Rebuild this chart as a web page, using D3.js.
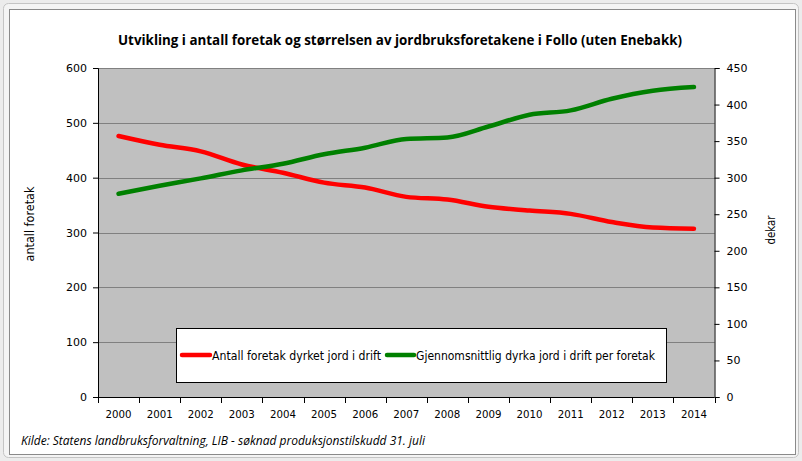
<!DOCTYPE html>
<html><head><meta charset="utf-8">
<script src="https://cdn.jsdelivr.net/npm/d3@7"></script>
<style>body{margin:0;background:#fff}svg{display:block}</style>
</head><body>
<svg id="c" width="802" height="461"></svg>
<script>
const years = ["2000","2001","2002","2003","2004","2005","2006","2007","2008","2009","2010","2011","2012","2013","2014"];
const antallForetak = [476,460,448,424,409,391,382,365,360,347,340,334,319,309,307];
const dekarPerForetak = [278,289,299,310,319,332,341,353,355,370,386,392,408,419,424];
const leftTicks = [0,100,200,300,400,500,600];
const rightTicks = [0,50,100,150,200,250,300,350,400,450];
const titleText = "Utvikling i antall foretak og størrelsen av jordbruksforetakene i Follo (uten Enebakk)";
const sourceText = "Kilde: Statens landbruksforvaltning, LIB - søknad produksjonstilskudd 31. juli";
const seriesNames = ["Antall foretak dyrket jord i drift","Gjennomsnittlig dyrka jord i drift per foretak"];

const svg = d3.select("#c");
const font = "'DejaVu Sans', Verdana, sans-serif";

// frame
svg.append("rect").attr("x",0).attr("y",0).attr("width",802).attr("height",461).attr("fill","#ececec");
svg.append("rect").attr("x",3.5).attr("y",3.5).attr("width",795).attr("height",454).attr("rx",5)
  .attr("fill","#f4f4f4").attr("stroke","#c4c4c4");
svg.append("rect").attr("x",9.5).attr("y",9.5).attr("width",786).attr("height",445)
  .attr("fill","#fff").attr("stroke","#8a8a8a");

const L=98, R=714.5, T=68, B=397;
const x = d3.scaleBand().domain(years).range([L,R]);
const yL = d3.scaleLinear().domain([0,600]).range([B,T]);
const yR = d3.scaleLinear().domain([0,450]).range([B,T]);

svg.append("rect").attr("x",L).attr("y",T).attr("width",R-L).attr("height",B-T).attr("fill","#c0c0c0");

// gridlines
svg.append("g").selectAll("line").data(leftTicks.filter(d=>d>0)).join("line")
  .attr("x1",L).attr("x2",R).attr("y1",d=>Math.round(yL(d))+0.5).attr("y2",d=>Math.round(yL(d))+0.5)
  .attr("stroke","#808080").attr("stroke-width",1);

// left axis
const gl = svg.append("g").attr("transform",`translate(${L},0)`)
  .call(d3.axisLeft(yL).tickValues(leftTicks).tickSize(5).tickPadding(6));
gl.select(".domain").attr("stroke","#000");
gl.selectAll(".tick line").attr("stroke","#000");
gl.selectAll("text").attr("font-family",font).attr("font-size",11).attr("fill","#000");

// right axis
const gr = svg.append("g").attr("transform",`translate(${R},0)`)
  .call(d3.axisRight(yR).tickValues(rightTicks).tickSize(5).tickPadding(7));
gr.select(".domain").attr("stroke","#000");
gr.selectAll(".tick line").attr("stroke","#000");
gr.selectAll("text").attr("font-family",font).attr("font-size",11).attr("fill","#000");

// bottom axis
svg.append("line").attr("x1",L).attr("x2",R).attr("y1",B+0.5).attr("y2",B+0.5).attr("stroke","#000");
const bounds = years.map(d=>x(d)).concat([x(years[years.length-1])+x.bandwidth()]);
svg.append("g").selectAll("line").data(bounds).join("line")
  .attr("x1",d=>Math.round(d)+0.5).attr("x2",d=>Math.round(d)+0.5).attr("y1",B).attr("y2",B+6).attr("stroke","#000");
svg.append("g").selectAll("text").data(years).join("text")
  .attr("x",d=>x(d)+x.bandwidth()/2).attr("y",418).attr("text-anchor","middle")
  .attr("font-family",font).attr("font-size",11).attr("textLength",26).attr("lengthAdjust","spacingAndGlyphs")
  .text(d=>d);

// lines
const lineL = d3.line().x((d,i)=>x(years[i])+x.bandwidth()/2).y(d=>yL(d)).curve(d3.curveMonotoneX);
const lineR = d3.line().x((d,i)=>x(years[i])+x.bandwidth()/2).y(d=>yR(d)).curve(d3.curveMonotoneX);
svg.append("path").attr("d",lineL(antallForetak)).attr("fill","none").attr("stroke","#ff0000")
  .attr("stroke-width",4.5).attr("stroke-linecap","round").attr("stroke-linejoin","round");
svg.append("path").attr("d",lineR(dekarPerForetak)).attr("fill","none").attr("stroke","#008000")
  .attr("stroke-width",4.5).attr("stroke-linecap","round").attr("stroke-linejoin","round");

// legend
svg.append("rect").attr("x",176.5).attr("y",328.5).attr("width",490).attr("height",54)
  .attr("fill","#fff").attr("stroke","#000");
const leg = [{c:"#ff0000",x1:182,x2:210,tx:212,tl:169,t:seriesNames[0]},
             {c:"#008000",x1:387,x2:414,tx:416,tl:239,t:seriesNames[1]}];
leg.forEach(l=>{
  svg.append("line").attr("x1",l.x1).attr("x2",l.x2).attr("y1",355).attr("y2",355)
    .attr("stroke",l.c).attr("stroke-width",4.5).attr("stroke-linecap","round");
  svg.append("text").attr("x",l.tx).attr("y",359.5).attr("font-family",font).attr("font-size",11.5)
    .attr("textLength",l.tl).attr("lengthAdjust","spacingAndGlyphs").text(l.t);
});

// title
svg.append("text").attr("x",400).attr("y",45).attr("text-anchor","middle")
  .attr("font-family","'Open Sans', sans-serif").attr("font-weight","bold").attr("font-size",14.5)
  .attr("textLength",564).attr("lengthAdjust","spacingAndGlyphs").text(titleText);

// axis titles
svg.append("text").attr("transform","translate(34,224) rotate(-90)").attr("text-anchor","middle")
  .attr("font-family",font).attr("font-size",11.5).attr("textLength",75).attr("lengthAdjust","spacingAndGlyphs").text("antall foretak");
svg.append("text").attr("transform","translate(775,230) rotate(-90)").attr("text-anchor","middle")
  .attr("font-family",font).attr("font-size",11.5).attr("textLength",29).attr("lengthAdjust","spacingAndGlyphs").text("dekar");

// source
svg.append("text").attr("x",21).attr("y",445).attr("font-family","'Open Sans', sans-serif")
  .attr("font-style","italic").attr("font-size",12).attr("textLength",404).attr("lengthAdjust","spacingAndGlyphs").text(sourceText);
</script>
</body></html>
